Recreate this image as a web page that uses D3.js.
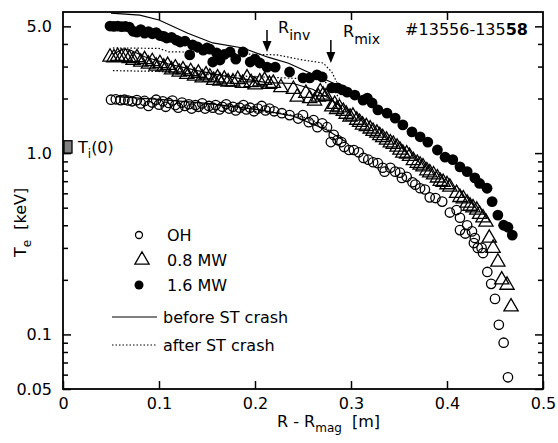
<!DOCTYPE html>
<html>
<head>
<meta charset="utf-8">
<script src="https://cdn.jsdelivr.net/npm/d3@7"></script>
<style>
  body { margin: 0; background: #fff; }
  svg text { font-family: "DejaVu Sans", sans-serif; fill: #000; }
</style>
</head>
<body>
<div id="chart"></div>
<script>
// ---- data: [R - Rmag (m), Te (keV)] ----
const ohData = [
  [0.050,1.97],[0.055,1.98],[0.060,1.96],[0.064,1.97],[0.068,1.95],[0.072,1.93],[0.077,1.96],[0.081,1.88],
  [0.085,1.94],[0.089,1.82],[0.093,1.90],[0.097,1.97],[0.100,1.85],[0.104,1.93],[0.107,1.80],[0.110,1.89],
  [0.114,1.95],[0.117,1.84],[0.120,1.78],[0.124,1.90],[0.127,1.82],[0.131,1.86],[0.134,1.76],[0.138,1.84],
  [0.141,1.80],[0.145,1.88],[0.148,1.76],[0.152,1.82],[0.156,1.78],[0.159,1.84],[0.163,1.74],[0.166,1.80],
  [0.170,1.86],[0.173,1.76],[0.177,1.80],[0.180,1.72],[0.184,1.78],[0.188,1.84],[0.191,1.74],[0.195,1.78],
  [0.199,1.70],[0.203,1.76],[0.207,1.82],[0.211,1.72],[0.215,1.76],[0.220,1.70],[0.228,1.66],[0.236,1.62],
  [0.245,1.55],[0.250,1.62],[0.256,1.48],[0.261,1.52],[0.265,1.39],[0.270,1.46],[0.275,1.39],[0.279,1.15],
  [0.282,1.26],[0.286,1.18],[0.290,1.15],[0.293,1.08],[0.298,1.04],[0.303,1.04],[0.308,1.01],[0.313,0.94],
  [0.318,0.92],[0.323,0.89],[0.328,0.88],[0.333,0.83],[0.335,0.79],[0.341,0.83],[0.346,0.79],[0.351,0.78],
  [0.353,0.73],[0.358,0.74],[0.364,0.69],[0.367,0.67],[0.372,0.64],[0.377,0.63],[0.382,0.57],[0.388,0.565],
  [0.395,0.54],[0.403,0.47],[0.410,0.485],[0.4135,0.44],[0.4135,0.376],[0.419,0.36],[0.421,0.40],[0.426,0.37],
  [0.428,0.319],[0.429,0.34],[0.432,0.30],[0.436,0.30],[0.4375,0.281],[0.442,0.221],[0.446,0.190],[0.450,0.157],
  [0.454,0.113],[0.459,0.090],[0.4635,0.058]
]
const mw08Data = [
  [0.049,3.39],[0.053,3.36],[0.057,3.42],[0.061,3.38],[0.065,3.40],[0.069,3.33],[0.073,3.25],[0.077,3.36],
  [0.081,3.18],[0.085,3.28],[0.089,3.10],[0.093,3.20],[0.097,3.02],[0.101,3.12],[0.105,2.98],[0.109,3.05],
  [0.113,2.88],[0.117,2.95],[0.121,2.80],[0.125,2.88],[0.129,2.72],[0.133,2.82],[0.137,2.66],[0.141,2.76],
  [0.145,2.60],[0.149,2.70],[0.153,2.63],[0.157,2.52],[0.161,2.60],[0.1635,2.50],[0.168,2.56],[0.172,2.47],
  [0.177,2.47],[0.182,2.55],[0.187,2.43],[0.1917,2.60],[0.196,2.45],[0.200,2.38],[0.205,2.47],[0.210,2.52],
  [0.215,2.40],[0.219,2.43],[0.227,2.30],[0.240,2.25],[0.244,2.04],[0.253,2.14],[0.257,2.00],[0.262,1.94],
  [0.266,2.04],[0.268,2.18],[0.271,2.09],[0.274,2.05],
  [0.280,1.80],[0.283,1.86],[0.285,1.74],[0.288,1.78],[0.292,1.70],[0.295,1.64],[0.299,1.58],[0.302,1.60],
  [0.306,1.52],[0.309,1.48],[0.312,1.43],[0.316,1.40],[0.320,1.36],[0.323,1.32],[0.327,1.29],[0.330,1.25],
  [0.333,1.22],[0.337,1.18],[0.341,1.14],[0.344,1.12],[0.348,1.08],[0.351,1.04],[0.354,1.00],[0.358,0.99],
  [0.361,0.96],[0.365,0.91],[0.369,0.88],[0.372,0.86],[0.375,0.84],[0.379,0.80],[0.382,0.78],[0.386,0.76],
  [0.390,0.73],[0.393,0.70],[0.396,0.69],[0.400,0.67],[0.403,0.65],[0.410,0.60],[0.4135,0.57],[0.417,0.56],
  [0.421,0.53],[0.424,0.51],[0.427,0.50],[0.431,0.485],[0.434,0.46],[0.4375,0.44],[0.4406,0.417],[0.444,0.340],
  [0.448,0.299],[0.453,0.251],[0.457,0.200],[0.4625,0.187],[0.4667,0.142]
]
const mw16Data = [
  [0.049,5.02],[0.053,5.00],[0.057,5.02],[0.061,4.98],[0.065,5.00],[0.069,4.95],[0.073,4.70],[0.077,4.65],
  [0.081,4.80],[0.085,4.59],[0.089,4.68],[0.093,4.55],[0.097,4.62],[0.101,4.45],[0.105,4.40],[0.108,4.31],
  [0.113,4.35],[0.118,4.20],[0.122,4.10],[0.127,4.15],[0.132,3.48],[0.135,3.95],[0.140,3.85],[0.146,3.70],
  [0.150,3.80],[0.153,3.74],[0.156,3.18],[0.160,3.57],[0.1635,3.26],[0.168,3.50],[0.174,3.61],[0.180,3.30],
  [0.1875,3.61],[0.195,3.18],[0.200,3.30],[0.205,3.14],[0.2125,2.98],[0.221,2.98],[0.236,2.80],[0.250,2.60],
  [0.257,2.60],[0.2646,2.70],[0.270,2.63],[0.280,2.29],[0.286,2.29],[0.291,2.23],[0.296,2.17],[0.304,2.09],
  [0.3125,1.96],[0.317,2.01],[0.322,1.89],[0.328,1.73],[0.3375,1.66],[0.346,1.56],[0.354,1.43],[0.3635,1.31],
  [0.372,1.23],[0.380,1.15],[0.390,1.04],[0.398,0.95],[0.406,0.92],[0.4135,0.84],[0.421,0.79],[0.429,0.73],
  [0.434,0.68],[0.4417,0.64],[0.447,0.54],[0.453,0.455],[0.459,0.40],[0.4635,0.39],[0.468,0.353]
]
// profiles before / after the sawtooth crash
const mw16Before = [[0.05,5.92],[0.08,5.77],[0.10,5.42],[0.13,4.58],[0.156,4.05],[0.1875,3.80],[0.2135,3.38],
  [0.235,3.13],[0.255,2.80],[0.282,2.43],[0.30,2.20]]
const mw16After = [[0.052,3.80],[0.10,3.78],[0.11,3.62],[0.143,3.60],[0.19,3.52],[0.223,3.48],[0.25,3.26],
  [0.271,3.14],[0.28,2.80],[0.285,2.47]]
const mw08Before = [[0.052,3.50],[0.062,3.75],[0.07,3.70],[0.085,3.40],[0.11,3.10],[0.14,2.85],[0.17,2.65],
  [0.2125,2.45],[0.24,2.42],[0.26,2.25],[0.275,2.04],[0.29,1.80]]
const mw08After = [[0.052,2.85],[0.10,2.82],[0.12,2.75],[0.16,2.70],[0.20,2.64],[0.245,2.58],[0.27,2.55],
  [0.28,2.30],[0.288,2.00]]
const ohBefore = [[0.055,2.05],[0.10,1.98],[0.15,1.88],[0.205,1.73],[0.24,1.60],[0.275,1.34],[0.295,1.15]]
const ohAfter = [[0.20,1.70],[0.226,1.66],[0.25,1.58],[0.268,1.46],[0.28,1.30]]

const tiZero = [1.0, 1.17]          // grey bar at R = 0
const rInv = 0.2125, rMix = 0.279
const xTicks = [0, 0.1, 0.2, 0.3, 0.4, 0.5]
const yMajor = [0.05, 0.1, 1, 5]
const yMajorLabels = ['0.05', '0.1', '1.0', '5.0']
const yMinor = [0.06, 0.07, 0.08, 0.09, 0.2, 0.3, 0.4, 0.5, 0.6, 0.7, 0.8, 0.9, 2, 3, 4]
const markerLabels = ['OH', '0.8 MW', '1.6 MW']
const lineLabels = ['before ST crash', 'after ST crash']

// ---- drawing ----
let width = 558
let height = 443
let pLeft = 63, pRight = 543, pTop = 12, pBottom = 389

let svg = d3.select('#chart').append('svg')
  .attr('width', width)
  .attr('height', height)

let x = d3.scaleLinear().domain([0, 0.5]).range([pLeft, pRight])
let y = d3.scaleLog().domain([0.05, 6]).range([pBottom, pTop])

// axes, ticks pointing inward
let gx = svg.append('g').attr('transform', 'translate(0,' + pBottom + ')')
  .call(d3.axisBottom(x).tickValues(xTicks).tickSizeInner(-8).tickSizeOuter(0).tickPadding(9)
    .tickFormat(function (d) { return d === 0 ? '0' : d3.format('.1f')(d) }))
gx.selectAll('text').attr('font-size', 16)
svg.append('g').attr('transform', 'translate(0,' + pTop + ')')
  .call(d3.axisTop(x).tickValues(xTicks.slice(1, -1)).tickSizeInner(-8).tickSizeOuter(0).tickFormat(''))

let gy = svg.append('g').attr('transform', 'translate(' + pLeft + ',0)')
  .call(d3.axisLeft(y).tickValues(yMajor).tickSizeInner(-8).tickSizeOuter(0).tickPadding(11)
    .tickFormat(function (d, i) { return yMajorLabels[i] }))
gy.selectAll('text').attr('font-size', 16)
svg.append('g').attr('transform', 'translate(' + pLeft + ',0)')
  .call(d3.axisLeft(y).tickValues(yMinor).tickSizeInner(-5).tickSizeOuter(0).tickFormat(''))
svg.append('g').attr('transform', 'translate(' + pRight + ',0)')
  .call(d3.axisRight(y).tickValues(yMajor).tickSizeInner(-8).tickSizeOuter(0).tickFormat(''))
svg.append('g').attr('transform', 'translate(' + pRight + ',0)')
  .call(d3.axisRight(y).tickValues(yMinor).tickSizeInner(-5).tickSizeOuter(0).tickFormat(''))
svg.selectAll('.domain').remove()
svg.selectAll('.tick line').attr('stroke', '#000').attr('stroke-width', 1.5)

svg.append('rect')
  .attr('x', pLeft).attr('y', pTop)
  .attr('width', pRight - pLeft).attr('height', pBottom - pTop)
  .attr('fill', 'none').attr('stroke', '#000').attr('stroke-width', 1.8)

// profile lines
let line = d3.line()
  .x(function (d) { return x(d[0]) })
  .y(function (d) { return y(d[1]) })
let solids = [ohBefore, mw08Before, mw16Before]
let dots = [ohAfter, mw08After, mw16After]
svg.selectAll('.before').data(solids).enter().append('path')
  .attr('d', line).attr('fill', 'none').attr('stroke', '#000').attr('stroke-width', 1.2)
svg.selectAll('.after').data(dots).enter().append('path')
  .attr('d', line).attr('fill', 'none').attr('stroke', '#000').attr('stroke-width', 1.2)
  .attr('stroke-dasharray', '1.5,2')

// markers
svg.append('g').selectAll('circle').data(ohData).enter().append('circle')
  .attr('cx', function (d) { return x(d[0]) })
  .attr('cy', function (d) { return y(d[1]) })
  .attr('r', 4.7).attr('fill', 'none').attr('stroke', '#000').attr('stroke-width', 1.3)
let tri = d3.symbol().type(d3.symbolTriangle).size(88)
svg.append('g').selectAll('path').data(mw08Data).enter().append('path')
  .attr('d', tri)
  .attr('transform', function (d) { return 'translate(' + x(d[0]) + ',' + y(d[1]) + ')' })
  .attr('fill', 'none').attr('stroke', '#000').attr('stroke-width', 1.3)
svg.append('g').selectAll('circle').data(mw16Data).enter().append('circle')
  .attr('cx', function (d) { return x(d[0]) })
  .attr('cy', function (d) { return y(d[1]) })
  .attr('r', 5.4).attr('fill', '#000')

// Ti(0) bar
svg.append('rect')
  .attr('x', x(0) + 1).attr('y', y(tiZero[1]))
  .attr('width', 8).attr('height', y(tiZero[0]) - y(tiZero[1]))
  .attr('fill', '#808080').attr('stroke', '#000').attr('stroke-width', 1.3)
let ti = svg.append('text').attr('x', 78).attr('y', 153).attr('font-size', 16)
ti.append('tspan').text('T')
ti.append('tspan').attr('font-size', 12).attr('dy', 5).text('i')
ti.append('tspan').attr('dy', -5).text('(0)')

// R_inv / R_mix arrows
function arrow (xv, y1, y2) {
  let px = x(xv)
  svg.append('line').attr('x1', px).attr('x2', px).attr('y1', y1).attr('y2', y2 - 8)
    .attr('stroke', '#000').attr('stroke-width', 1.5)
  svg.append('path')
    .attr('d', 'M' + (px - 4.5) + ',' + (y2 - 11) + 'L' + (px + 4.5) + ',' + (y2 - 11) + 'L' + px + ',' + y2 + 'Z')
    .attr('fill', '#000')
}
arrow(rInv, 30, 52)
arrow(rMix, 40, 63)
function subLabel (px, py, main, sub) {
  let t = svg.append('text').attr('x', px).attr('y', py).attr('font-size', 16)
  t.append('tspan').text(main)
  t.append('tspan').attr('font-size', 14).attr('dy', 7).text(sub)
}
subLabel(278, 33, 'R', 'inv')
subLabel(343, 37, 'R', 'mix')

// shot numbers
let shot = svg.append('text').attr('x', 528).attr('y', 35).attr('font-size', 16).attr('text-anchor', 'end')
shot.append('tspan').text('#13556-135')
shot.append('tspan').attr('font-weight', 'bold').text('58')

// axis titles
let xt = svg.append('text').attr('x', 277).attr('y', 427).attr('font-size', 16)
xt.append('tspan').text('R - R')
xt.append('tspan').attr('font-size', 12).attr('dy', 5).text('mag')
xt.append('tspan').attr('dy', -5).attr('xml:space', 'preserve').text('  [m]')
let yt = svg.append('text').attr('transform', 'translate(26,257) rotate(-90)').attr('font-size', 16)
yt.append('tspan').text('T')
yt.append('tspan').attr('font-size', 12).attr('dy', 5).text('e')
yt.append('tspan').attr('dy', -5).attr('xml:space', 'preserve').text('  [keV]')

// legend
let leg = svg.append('g')
leg.append('circle').attr('cx', 139).attr('cy', 235).attr('r', 3.5)
  .attr('fill', 'none').attr('stroke', '#000').attr('stroke-width', 1.3)
leg.append('path').attr('d', tri).attr('transform', 'translate(142,260)')
  .attr('fill', 'none').attr('stroke', '#000').attr('stroke-width', 1.3)
leg.append('circle').attr('cx', 139).attr('cy', 285).attr('r', 4.5).attr('fill', '#000')
leg.selectAll('.ml').data(markerLabels).enter().append('text')
  .attr('x', 167).attr('y', function (d, i) { return 241 + i * 25 })
  .attr('font-size', 16).text(function (d) { return d })
leg.selectAll('.ll').data(lineLabels).enter().append('line')
  .attr('x1', 112).attr('x2', 157)
  .attr('y1', function (d, i) { return 317 + i * 28 })
  .attr('y2', function (d, i) { return 317 + i * 28 })
  .attr('stroke', '#000').attr('stroke-width', 1.2)
  .attr('stroke-dasharray', function (d, i) { return i ? '1.5,2' : null })
leg.selectAll('.lt').data(lineLabels).enter().append('text')
  .attr('x', 163).attr('y', function (d, i) { return 323 + i * 28 })
  .attr('font-size', 16).text(function (d) { return d })
</script>
</body>
</html>
